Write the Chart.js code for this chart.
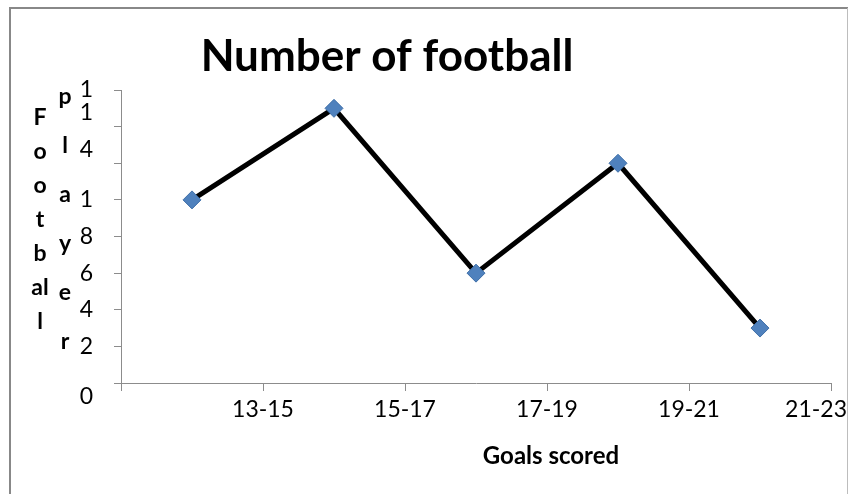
<!DOCTYPE html>
<html>
<head>
<meta charset="utf-8">
<script src="https://cdn.jsdelivr.net/npm/chart.js@4"></script>
<style>
  html, body { margin: 0; padding: 0; background: #fff; }
  #wrap { width: 851px; height: 494px; }
</style>
</head>
<body>
<div id="wrap"><canvas id="canvas" width="851" height="494"></canvas></div>
<script>
// Goals scored bands and how many players scored in each
const categories = ['13-15', '15-17', '17-19', '19-21', '21-23'];
const players = [10, 15, 6, 12, 3];

// y ticks every 2 up to 16; the narrow axis only leaves part of the two-digit labels
const yTickValues = [0, 2, 4, 6, 8, 10, 12, 14, 16];
const yTickText = [['', '0'], '2', '4', '6', '8', '1', ['4', ''], ['1', ''], '1'];

const titleText = 'Number of football';
const xTitleText = 'Goals scored';
// the y title wrapped one or two letters per line, in two columns
const yTitleCol1 = ['F', 'o', 'o', 't', 'b', 'al', 'l'];
const yTitleCol2 = ['p', 'l', 'a', 'y', 'e', 'r'];

const FONT = 'Lato, "Open Sans", sans-serif';
const AXIS_GREY = '#8c8c8c';

// frame, title and the stacked axis titles
const decorations = {
    id: 'decorations',
    beforeDraw(chart) {
        const ctx = chart.ctx;
        ctx.save();
        ctx.strokeStyle = '#888';
        ctx.lineWidth = 2;
        ctx.beginPath();
        ctx.moveTo(10, 494);
        ctx.lineTo(10, 8);
        ctx.lineTo(848, 8);
        ctx.stroke();
        ctx.strokeStyle = '#bdbdbd';
        ctx.lineWidth = 1;
        ctx.beginPath();
        ctx.moveTo(847.5, 8);
        ctx.lineTo(847.5, 494);
        ctx.stroke();
        ctx.restore();

        // keep the last x label inside the frame
        const items = chart.scales.x.getLabelItems();
        const last = items[items.length - 1];
        if (last) {
            last.options.textAlign = 'right';
            last.options.translation[0] = 847;
        }
    },
    afterDraw(chart) {
        const ctx = chart.ctx;
        ctx.save();
        ctx.fillStyle = '#000';
        ctx.textAlign = 'center';
        ctx.textBaseline = 'middle';

        ctx.font = 'bold 44px ' + FONT;
        ctx.fillText(titleText, 387, 57);

        ctx.font = 'bold 24px ' + FONT;
        ctx.fillText(xTitleText, 551, 456);

        ctx.font = 'bold 23px ' + FONT;
        yTitleCol1.forEach((s, i) => ctx.fillText(s, 40, 118 + i * 34));
        yTitleCol2.forEach((s, i) => ctx.fillText(s, 65, 97 + i * 49));
        ctx.restore();
    }
};

const ctx = document.getElementById('canvas').getContext('2d');
new Chart(ctx, {
    type: 'line',
    data: {
        labels: categories,
        datasets: [{
            label: 'Players',
            data: players,
            borderColor: '#000',
            borderWidth: 5,
            pointStyle: 'rectRot',
            pointRadius: 9,
            pointHoverRadius: 9,
            pointBackgroundColor: '#4f81bd',
            pointBorderColor: '#3f6fa8',
            pointBorderWidth: 1,
            tension: 0
        }]
    },
    options: {
        responsive: false,
        animation: false,
        layout: { padding: { top: 90, right: 20, left: 0, bottom: 0 } },
        plugins: {
            legend: { display: false },
            title: { display: false },
            tooltip: { enabled: false }
        },
        scales: {
            x: {
                type: 'category',
                offset: true,
                afterFit: (scale) => { scale.height = 111; },
                grid: {
                    offset: true,
                    drawOnChartArea: false,
                    drawTicks: true,
                    tickLength: 8,
                    color: AXIS_GREY
                },
                border: { color: AXIS_GREY, width: 1 },
                ticks: {
                    color: '#000',
                    font: { family: FONT, size: 23 },
                    padding: 5,
                    labelOffset: 71,
                    maxRotation: 0,
                    autoSkip: false
                }
            },
            y: {
                min: 0,
                max: 16,
                afterFit: (scale) => { scale.width = 121; },
                afterBuildTicks: (scale) => {
                    scale.ticks = yTickValues.map(v => ({ value: v }));
                },
                grid: {
                    drawOnChartArea: false,
                    drawTicks: true,
                    tickLength: 7,
                    color: AXIS_GREY
                },
                border: { color: AXIS_GREY, width: 1 },
                ticks: {
                    color: '#000',
                    font: { family: FONT, size: 23 },
                    padding: 21,
                    autoSkip: false,
                    callback: (value) => yTickText[yTickValues.indexOf(value)]
                }
            }
        }
    },
    plugins: [decorations]
});
</script>
</body>
</html>
